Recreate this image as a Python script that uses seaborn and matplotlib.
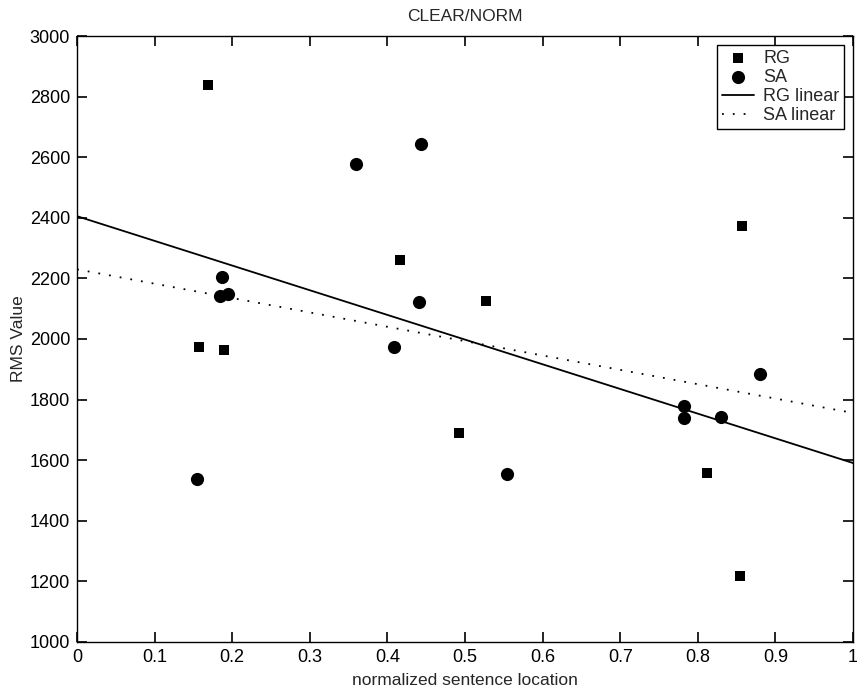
import matplotlib
matplotlib.use("Agg")
import matplotlib.pyplot as plt
import seaborn as sns
import numpy as np
import pandas as pd

# Data
rg_x = [0.169, 0.157, 0.190, 0.416, 0.492, 0.5275, 0.812, 0.855, 0.857]
rg_y = [2838, 1974, 1963, 2262, 1691, 2125, 1559, 1217, 2373]
sa_x = [0.154, 0.184, 0.187, 0.195, 0.359, 0.4085, 0.441, 0.443, 0.554, 0.782, 0.782, 0.830, 0.880]
sa_y = [1539, 2143, 2203, 2148, 2578, 1974, 2121, 2645, 1553, 1780, 1740, 1744, 1883]

x_ticks = [0, 0.1, 0.2, 0.3, 0.4, 0.5, 0.6, 0.7, 0.8, 0.9, 1]
x_tick_labels = ["0", "0.1", "0.2", "0.3", "0.4", "0.5", "0.6", "0.7", "0.8", "0.9", "1"]
y_ticks = [1000, 1200, 1400, 1600, 1800, 2000, 2200, 2400, 2600, 2800, 3000]
fit_range = [0, 1]

title = "CLEAR/NORM"
x_label = "normalized sentence location"
y_label = "RMS Value"

sns.set_style("ticks")
plt.rcParams['font.family'] = ['Liberation Sans', 'DejaVu Sans']
plt.rcParams['font.size'] = 12
plt.rcParams['xtick.direction'] = 'in'
plt.rcParams['ytick.direction'] = 'in'
plt.rcParams['xtick.major.size'] = 7
plt.rcParams['ytick.major.size'] = 7
plt.rcParams['xtick.major.width'] = 1.2
plt.rcParams['ytick.major.width'] = 1.2

rg = pd.DataFrame({"x": rg_x, "y": rg_y})
sa = pd.DataFrame({"x": sa_x, "y": sa_y})

# least-squares linear fits over the x range
rg_coef = np.polyfit(rg_x, rg_y, 1)
sa_coef = np.polyfit(sa_x, sa_y, 1)
fits = pd.DataFrame({
    "x": fit_range + fit_range,
    "y": list(np.polyval(rg_coef, fit_range)) + list(np.polyval(sa_coef, fit_range)),
    "series": ["RG linear"] * 2 + ["SA linear"] * 2,
})

fig = plt.figure(figsize=(8.57, 6.90), dpi=100)
ax = fig.add_axes([0.0899, 0.0696, 0.9054, 0.8782])

sns.scatterplot(data=rg, x="x", y="y", marker="s", s=52, color="black",
                edgecolor="black", linewidth=0, ax=ax, label="RG", zorder=3)
sns.scatterplot(data=sa, x="x", y="y", marker="o", s=90, color="black",
                edgecolor="black", linewidth=0, ax=ax, label="SA", zorder=3)
sns.lineplot(data=fits[fits.series == "RG linear"], x="x", y="y", color="black",
             linewidth=1.3, ax=ax, label="RG linear")
sns.lineplot(data=fits[fits.series == "SA linear"], x="x", y="y", color="black",
             linewidth=1.3, linestyle=(0, (1, 5)), ax=ax, label="SA linear")

ax.set_xlim(0, 1)
ax.set_ylim(1000, 3000)
ax.set_xticks(x_ticks)
ax.set_xticklabels(x_tick_labels)
ax.set_yticks(y_ticks)
ax.tick_params(which="major", direction="in", length=7, width=1.2, top=True, right=True,
               bottom=True, left=True, labelsize=13, color="black", labelcolor="black", pad=5)
for sp in ax.spines.values():
    sp.set_visible(True)
    sp.set_linewidth(1.0)
    sp.set_color("black")

ax.set_title(title, fontsize=12.5, pad=11)
ax.set_xlabel(x_label, fontsize=12.5, labelpad=5)
ax.set_ylabel(y_label, fontsize=12.5, labelpad=3)

leg = ax.legend(loc="upper right", frameon=True, fancybox=False, fontsize=13,
                borderaxespad=0.5, handlelength=1.8, handletextpad=0.5,
                labelspacing=0.12, borderpad=0.25)
leg.get_frame().set_edgecolor("black")
leg.get_frame().set_linewidth(1.0)
leg.get_frame().set_alpha(1)

fig.savefig("out.png", dpi=100)
